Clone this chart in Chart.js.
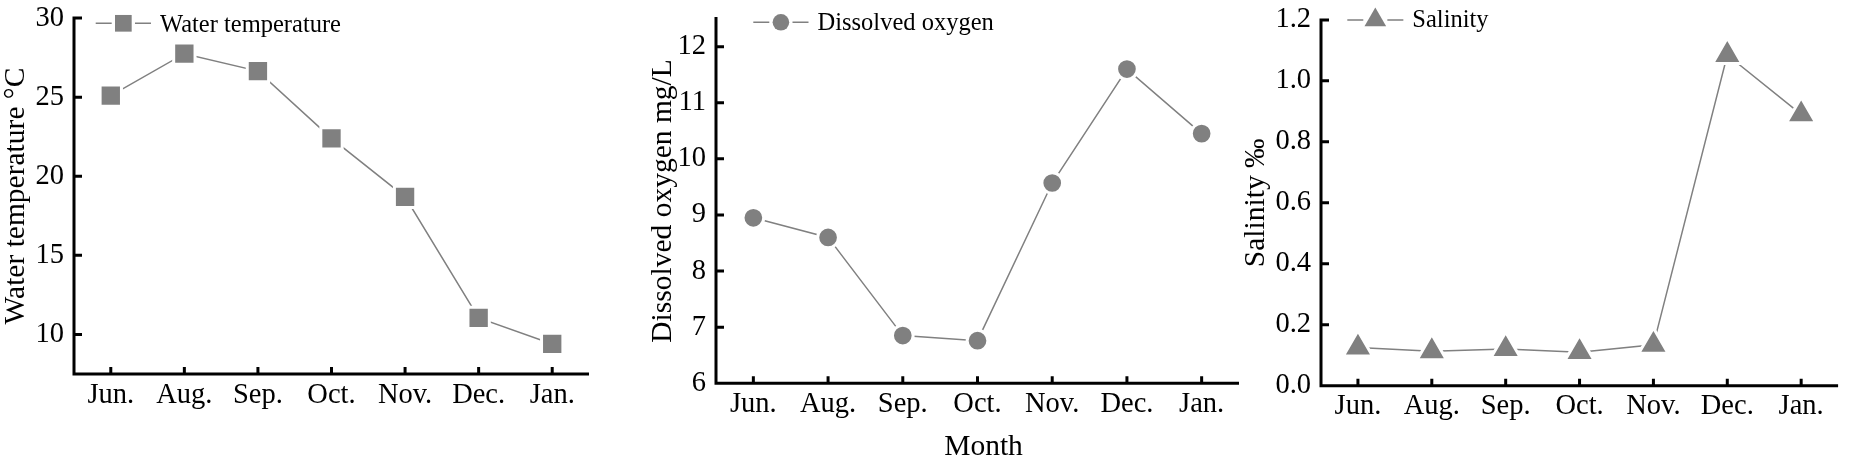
<!DOCTYPE html>
<html>
<head>
<meta charset="utf-8">
<script src="https://cdn.jsdelivr.net/npm/chart.js@4.4.1/dist/chart.umd.min.js"></script>
<style>
  html, body { margin: 0; padding: 0; background: #ffffff; }
  #wrap { position: relative; width: 1858px; height: 464px; overflow: hidden; background: #fff; }
  #wrap canvas { position: absolute; left: 0; top: 0; }
</style>
</head>
<body>
<div id="wrap">
  <canvas id="c1" width="1858" height="464"></canvas>
  <canvas id="c2" width="1858" height="464"></canvas>
  <canvas id="c3" width="1858" height="464"></canvas>
</div>
<script>
// ---------------- DATA ----------------
const months = ['Jun.', 'Aug.', 'Sep.', 'Oct.', 'Nov.', 'Dec.', 'Jan.'];

const waterTemperature = [25.1, 27.75, 26.65, 22.4, 18.7, 11.05, 9.4];
const dissolvedOxygen  = [8.95, 8.6, 6.85, 6.76, 9.57, 11.6, 10.45];
const salinity         = [0.125, 0.113, 0.12, 0.11, 0.134, 1.085, 0.89];

const tempTicks     = [10, 15, 20, 25, 30];
const oxygenTicks   = [6, 7, 8, 9, 10, 11, 12];
const salinityTicks = [0.0, 0.2, 0.4, 0.6, 0.8, 1.0, 1.2];

// ---------------- STYLE ----------------
const FONT = 'Liberation Serif, Times New Roman, serif';
const GRAY = '#808080';
const W = 1858, H = 464;

// axes drawn Origin-style: thick black lines with inward ticks
const originAxes = {
  id: 'originAxes',
  afterDraw(chart) {
    const {ctx, chartArea: a, scales} = chart;
    const xs = scales.x, ys = scales.y;
    ctx.save();
    ctx.strokeStyle = '#000';
    ctx.lineWidth = 3;
    ctx.lineCap = 'butt';
    ctx.beginPath();
    ctx.moveTo(a.left, a.top - 1.5);
    ctx.lineTo(a.left, a.bottom + 1.5);
    ctx.moveTo(a.left - 1.5, a.bottom);
    ctx.lineTo(a.right, a.bottom);
    ys.ticks.forEach(t => {
      const py = ys.getPixelForValue(t.value);
      ctx.moveTo(a.left, py);
      ctx.lineTo(a.left + 8, py);
    });
    xs.ticks.forEach((t, i) => {
      const px = xs.getPixelForTick(i);
      ctx.moveTo(px, a.bottom);
      ctx.lineTo(px, a.bottom - 7);
    });
    ctx.stroke();
    ctx.restore();
  }
};

// x-axis title, centred under the plot with a small shift like the original
const bottomTitle = {
  id: 'bottomTitle',
  afterDraw(chart, args, opts) {
    if (!opts || !opts.text) return;
    const {ctx, chartArea: a} = chart;
    ctx.save();
    ctx.fillStyle = '#000';
    ctx.font = '29.5px ' + FONT;
    ctx.textAlign = 'center';
    ctx.textBaseline = 'alphabetic';
    ctx.fillText(opts.text, (a.left + a.right) / 2 + opts.shift, a.bottom + opts.drop);
    ctx.restore();
  }
};

// legend "—marker— label" drawn inside the plot
const miniLegend = {
  id: 'miniLegend',
  afterDraw(chart, args, opts) {
    const ds = chart.data.datasets[0];
    const {ctx} = chart;
    const seg = 16;
    const gap = opts.gap;
    const style = ds.pointStyle;
    const r = opts.radius;
    let hw = r;
    if (style === 'rect') hw = r * Math.SQRT1_2;
    if (style === 'triangle') hw = r * Math.sin(Math.PI / 3);
    const x0 = opts.x, y = opts.y;
    const cx = x0 + seg + gap + hw;
    ctx.save();
    ctx.strokeStyle = GRAY;
    ctx.lineWidth = 1.5;
    ctx.beginPath();
    ctx.moveTo(x0, y); ctx.lineTo(x0 + seg, y);
    const s2 = cx + hw + gap;
    ctx.moveTo(s2, y); ctx.lineTo(s2 + seg, y);
    ctx.stroke();
    ctx.fillStyle = GRAY;
    ctx.beginPath();
    if (style === 'rect') {
      ctx.rect(cx - hw, y - hw, 2 * hw, 2 * hw);
    } else if (style === 'circle') {
      ctx.arc(cx, y, r, 0, Math.PI * 2);
    } else {
      let rad = 0;
      ctx.moveTo(cx + Math.sin(rad) * r, y - Math.cos(rad) * r);
      rad += 2 * Math.PI / 3;
      ctx.lineTo(cx + Math.sin(rad) * r, y - Math.cos(rad) * r);
      rad += 2 * Math.PI / 3;
      ctx.lineTo(cx + Math.sin(rad) * r, y - Math.cos(rad) * r);
      ctx.closePath();
    }
    ctx.fill();
    ctx.fillStyle = '#000';
    ctx.font = '24.5px ' + FONT;
    ctx.textAlign = 'left';
    ctx.textBaseline = 'alphabetic';
    ctx.fillText(ds.label, s2 + seg + 9, y + opts.base);
    ctx.restore();
  }
};

function makeChart(id, cfg) {
  const tickVals = cfg.ticks;
  return new Chart(document.getElementById(id), {
    type: 'line',
    data: {
      labels: months,
      datasets: [{
        label: cfg.label,
        data: cfg.data,
        borderColor: GRAY,
        borderWidth: 1.5,
        pointStyle: cfg.pointStyle,
        pointRadius: cfg.pointRadius,
        pointBackgroundColor: GRAY,
        pointBorderColor: '#ffffff',
        pointBorderWidth: 3,
        tension: 0,
        clip: false
      }]
    },
    plugins: [originAxes, miniLegend, bottomTitle],
    options: {
      responsive: false,
      animation: false,
      events: [],
      devicePixelRatio: 1,
      layout: { padding: { left: cfg.pl, right: W - cfg.R, top: cfg.T, bottom: 0 } },
      plugins: {
        legend: { display: false },
        tooltip: { enabled: false },
        miniLegend: cfg.legend,
        bottomTitle: cfg.xTitle ? { text: cfg.xTitle, shift: 6, drop: 71.7 } : {}
      },
      scales: {
        x: {
          type: 'category',
          offset: true,
          grid: { display: false, drawTicks: false, drawOnChartArea: false },
          border: { display: false },
          ticks: {
            color: '#000',
            font: { family: FONT, size: 28.5, lineHeight: 1 },
            padding: 7,
            maxRotation: 0,
            autoSkip: false
          },
          title: { display: false },
          afterFit(scale) {
            scale.height = H - cfg.B;
            scale.paddingLeft = 0; scale.paddingRight = 0;
          }
        },
        y: {
          min: cfg.min, max: cfg.max,
          grid: { display: false, drawTicks: false, drawOnChartArea: false },
          border: { display: false },
          afterBuildTicks(scale) { scale.ticks = tickVals.map(v => ({ value: v })); },
          ticks: {
            color: '#000',
            font: { family: FONT, size: 28.5, lineHeight: 1 },
            padding: 10,
            callback: v => cfg.decimals ? Number(v).toFixed(cfg.decimals) : String(v)
          },
          title: {
            display: true, text: cfg.yTitle, color: '#000',
            font: { family: FONT, size: 29.5, lineHeight: 1 },
            padding: { top: 1.25, bottom: 0 }
          },
          afterFit(scale) {
            scale.width = cfg.L - cfg.pl;
            scale.paddingTop = 0; scale.paddingBottom = 0;
          }
        }
      }
    }
  });
}

makeChart('c1', {
  label: 'Water temperature', data: waterTemperature, ticks: tempTicks,
  min: 7.5, max: 30, decimals: 0,
  pointStyle: 'rect', pointRadius: 15.1,
  yTitle: 'Water temperature \u00B0C',
  pl: 0, L: 74, R: 589, T: 14, B: 374,
  legend: { x: 95.7, y: 23.3, radius: 11.8, gap: 3.3, base: 8.4 }
});

makeChart('c2', {
  label: 'Dissolved oxygen', data: dissolvedOxygen, ticks: oxygenTicks,
  min: 6, max: 12.5, decimals: 0,
  pointStyle: 'circle', pointRadius: 10.35,
  yTitle: 'Dissolved oxygen mg/L', xTitle: 'Month',
  pl: 647.3, L: 716, R: 1239, T: 18.6, B: 383.3,
  legend: { x: 753.3, y: 22.3, radius: 8.3, gap: 3.3, base: 7.7 }
});

makeChart('c3', {
  label: 'Salinity', data: salinity, ticks: salinityTicks,
  min: 0, max: 1.2, decimals: 1,
  pointStyle: 'triangle', pointRadius: 16.9,
  yTitle: 'Salinity \u2030',
  pl: 1240.7, L: 1321, R: 1849, T: 16.5, B: 385.7,
  legend: { x: 1347.3, y: 20, radius: 12.5, gap: 1.2, base: 7.3 }
});
</script>
</body>
</html>
